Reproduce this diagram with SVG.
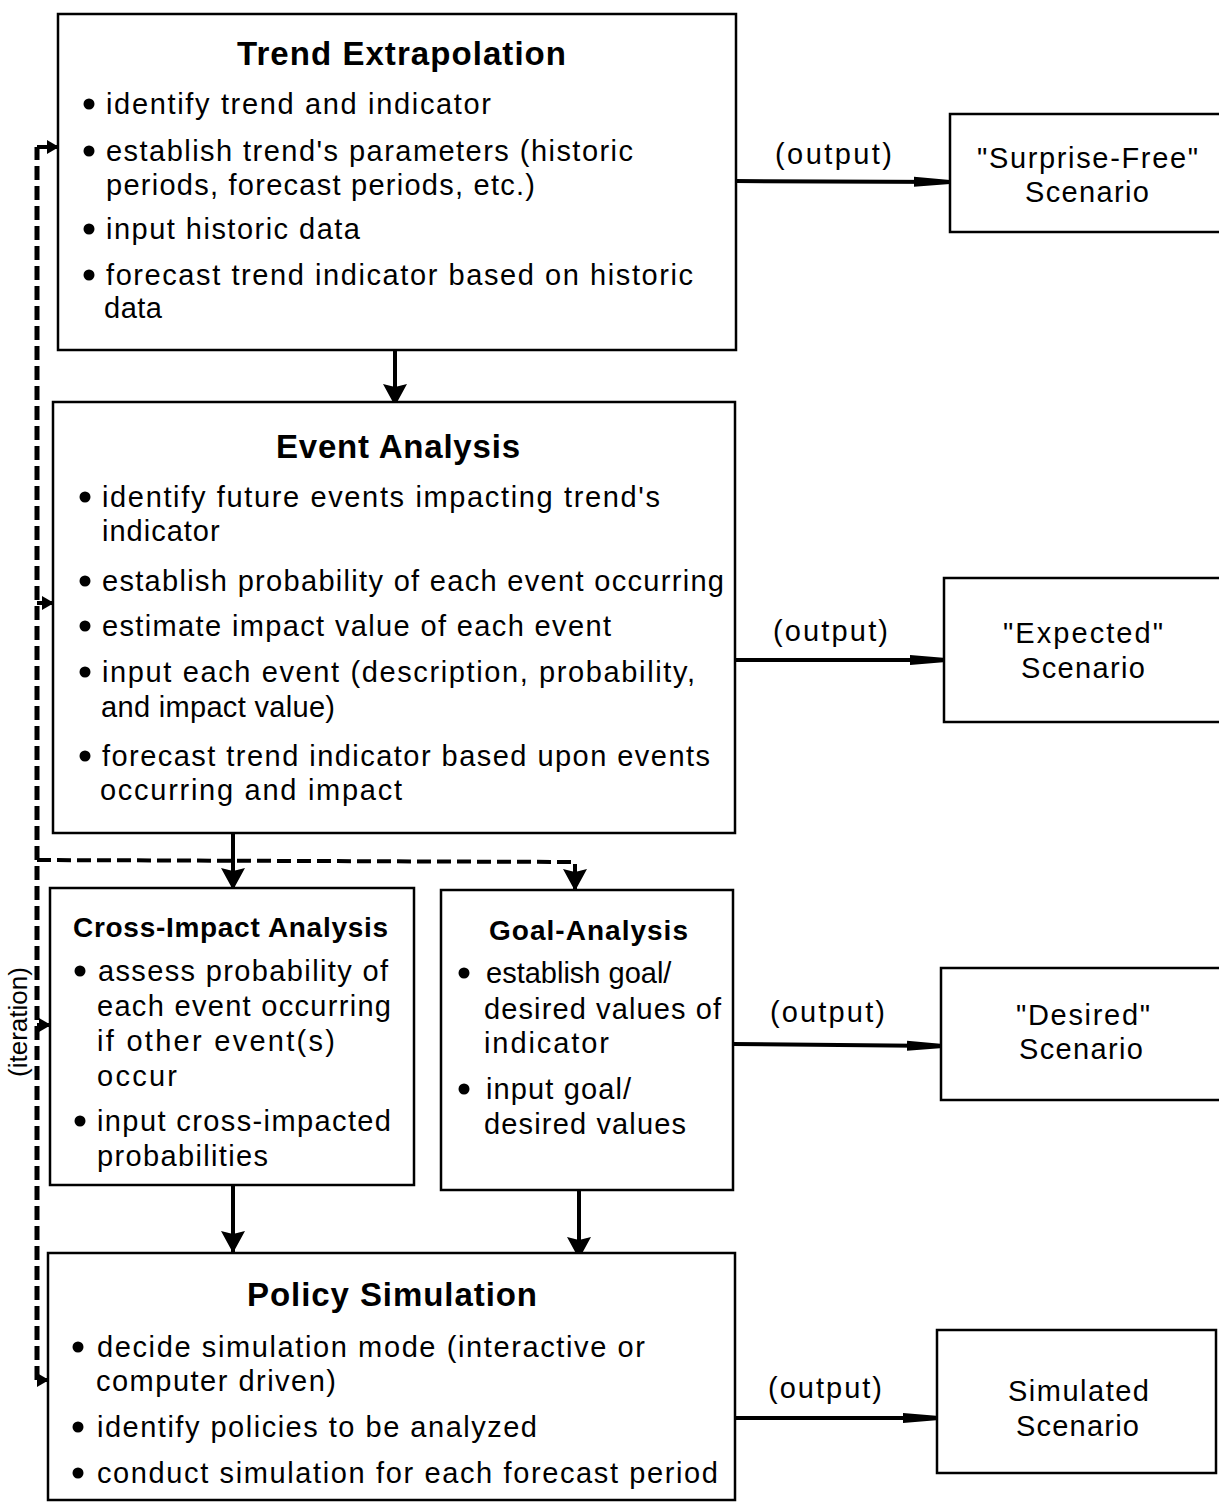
<svg xmlns="http://www.w3.org/2000/svg" width="1219" height="1505" viewBox="0 0 1219 1505">
<style>
.box{fill:#fff;stroke:#000;stroke-width:2.5}
.t{font-family:"Liberation Sans",Arial,sans-serif;font-size:29px;fill:#000}
.h{font-family:"Liberation Sans",Arial,sans-serif;font-weight:bold;font-size:33px;fill:#000}
.h2{font-family:"Liberation Sans",Arial,sans-serif;font-weight:bold;font-size:28px;fill:#000}
.solid{stroke:#000;stroke-width:4;fill:none}
.dash{stroke:#000;stroke-width:5;fill:none;stroke-dasharray:14 6}
.dot{fill:#000}
</style>
<defs>
<marker id="big" viewBox="0 0 22 24" refX="21" refY="12" markerWidth="22" markerHeight="24" markerUnits="userSpaceOnUse" orient="auto">
<path d="M0,0 L22,12 L0,24 L3,12 z" fill="#000"/>
</marker>
<marker id="dart" viewBox="0 0 36 12" refX="35" refY="6" markerWidth="36" markerHeight="12" markerUnits="userSpaceOnUse" orient="auto">
<path d="M0,1 L36,4 L36,8 L0,11 z" fill="#000"/>
</marker>
<marker id="small" viewBox="0 0 12 14" refX="11" refY="7" markerWidth="12" markerHeight="14" markerUnits="userSpaceOnUse" orient="auto">
<path d="M0,0 L12,7 L0,14 z" fill="#000"/>
</marker>
</defs>

<g id="connectors">
<line class="solid" x1="395" y1="350" x2="395" y2="405" marker-end="url(#big)"/>
<line class="solid" x1="233" y1="833" x2="233" y2="889" marker-end="url(#big)"/>
<line class="solid" x1="233" y1="1185" x2="233" y2="1252" marker-end="url(#big)"/>
<line class="solid" x1="579" y1="1190" x2="579" y2="1258" marker-end="url(#big)"/>
<line class="solid" x1="735" y1="181" x2="949" y2="182" marker-end="url(#dart)"/>
<line class="solid" x1="735" y1="660" x2="945" y2="660" marker-end="url(#dart)"/>
<line class="solid" x1="733" y1="1044" x2="942" y2="1046" marker-end="url(#dart)"/>
<line class="solid" x1="735" y1="1418" x2="938" y2="1418" marker-end="url(#dart)"/>
<path class="dash" d="M37,1380 L37,147"/>
<line class="solid" x1="37" y1="147" x2="58" y2="147" marker-end="url(#small)"/>
<line class="solid" x1="37" y1="603" x2="53" y2="603" marker-end="url(#small)"/>
<line class="solid" x1="37" y1="1025" x2="50" y2="1025" marker-end="url(#small)"/>
<line class="solid" x1="37" y1="1380" x2="48" y2="1380" marker-end="url(#small)"/>
<path class="dash" d="M37,860 L575,862 L575,874" style="stroke-width:4"/>
<line class="solid" x1="575" y1="868" x2="575" y2="890" marker-end="url(#big)"/>
<text class="t" style="font-size:26px" text-anchor="middle" transform="translate(27,1022) rotate(-90)">(iteration)</text>
</g>

<g id="trend-extrapolation">
<rect class="box" x="58" y="14" width="678" height="336"/>
<text class="h" x="237" y="65" textLength="329">Trend Extrapolation</text>
<circle class="dot" cx="89" cy="104" r="5.5"/>
<text class="t" x="106" y="114" textLength="385">identify trend and indicator</text>
<circle class="dot" cx="89" cy="151" r="5.5"/>
<text class="t" x="106" y="161" textLength="527">establish trend's parameters (historic</text>
<text class="t" x="106" y="195" textLength="429">periods, forecast periods, etc.)</text>
<circle class="dot" cx="89" cy="229" r="5.5"/>
<text class="t" x="106" y="239" textLength="254">input historic data</text>
<circle class="dot" cx="89" cy="275" r="5.5"/>
<text class="t" x="106" y="285" textLength="587">forecast trend indicator based on historic</text>
<text class="t" x="104" y="318" textLength="58">data</text>
</g>

<g id="event-analysis">
<rect class="box" x="53" y="402" width="682" height="431"/>
<text class="h" x="276" y="458" textLength="244">Event Analysis</text>
<circle class="dot" cx="85" cy="497" r="5.5"/>
<text class="t" x="102" y="507" textLength="558">identify future events impacting trend's</text>
<text class="t" x="102" y="541" letter-spacing="1">indicator</text>
<circle class="dot" cx="85" cy="581" r="5.5"/>
<text class="t" x="102" y="591" textLength="622">establish probability of each event occurring</text>
<circle class="dot" cx="85" cy="626" r="5.5"/>
<text class="t" x="102" y="636" textLength="509">estimate impact value of each event</text>
<circle class="dot" cx="85" cy="672" r="5.5"/>
<text class="t" x="102" y="682" textLength="593">input each event (description, probability,</text>
<text class="t" x="101" y="717" textLength="234">and impact value)</text>
<circle class="dot" cx="85" cy="756" r="5.5"/>
<text class="t" x="102" y="766" textLength="608">forecast trend indicator based upon events</text>
<text class="t" x="100" y="800" textLength="302">occurring and impact</text>
</g>

<g id="cross-impact-analysis">
<rect class="box" x="50" y="888" width="364" height="297"/>
<text class="h2" x="73" y="937" textLength="315">Cross-Impact Analysis</text>
<circle class="dot" cx="80" cy="971" r="5.5"/>
<text class="t" x="98" y="981" textLength="290">assess probability of</text>
<text class="t" x="97" y="1016" textLength="294">each event occurring</text>
<text class="t" x="97" y="1051" textLength="238">if other event(s)</text>
<text class="t" x="97" y="1086" textLength="80">occur</text>
<circle class="dot" cx="80" cy="1121" r="5.5"/>
<text class="t" x="97" y="1131" textLength="294">input cross-impacted</text>
<text class="t" x="97" y="1166" textLength="171">probabilities</text>
</g>

<g id="goal-analysis">
<rect class="box" x="441" y="890" width="292" height="300"/>
<text class="h2" x="489" y="940" textLength="199">Goal-Analysis</text>
<circle class="dot" cx="464" cy="973" r="5.5"/>
<text class="t" x="486" y="983">establish goal/</text>
<text class="t" x="484" y="1019" textLength="237">desired values of</text>
<text class="t" x="484" y="1053" textLength="125">indicator</text>
<circle class="dot" cx="464" cy="1089" r="5.5"/>
<text class="t" x="486" y="1099" textLength="145">input goal/</text>
<text class="t" x="484" y="1134" textLength="202">desired values</text>
</g>

<g id="policy-simulation">
<rect class="box" x="48" y="1253" width="687" height="247"/>
<text class="h" x="247" y="1306" textLength="290">Policy Simulation</text>
<circle class="dot" cx="78" cy="1347" r="5.5"/>
<text class="t" x="97" y="1357" textLength="548">decide simulation mode (interactive or</text>
<text class="t" x="96" y="1391" textLength="240">computer driven)</text>
<circle class="dot" cx="78" cy="1427" r="5.5"/>
<text class="t" x="97" y="1437" textLength="440">identify policies to be analyzed</text>
<circle class="dot" cx="78" cy="1473" r="5.5"/>
<text class="t" x="97" y="1483" textLength="621">conduct simulation for each forecast period</text>
</g>

<g id="output-labels">
<text class="t" x="775" y="164" textLength="117">(output)</text>
<text class="t" x="773" y="641" textLength="115">(output)</text>
<text class="t" x="770" y="1022" textLength="115">(output)</text>
<text class="t" x="768" y="1398" textLength="114">(output)</text>
</g>

<g id="surprise-free-scenario">
<rect class="box" x="950" y="114" width="280" height="118"/>
<text class="t" x="977" y="168" textLength="221">"Surprise-Free"</text>
<text class="t" x="1025" y="202" textLength="124">Scenario</text>
</g>

<g id="expected-scenario">
<rect class="box" x="944" y="578" width="290" height="144"/>
<text class="t" x="1003" y="643" textLength="160">"Expected"</text>
<text class="t" x="1021" y="678" textLength="124">Scenario</text>
</g>

<g id="desired-scenario">
<rect class="box" x="941" y="968" width="290" height="132"/>
<text class="t" x="1016" y="1025" textLength="134">"Desired"</text>
<text class="t" x="1019" y="1059" textLength="124">Scenario</text>
</g>

<g id="simulated-scenario">
<rect class="box" x="937" y="1330" width="279" height="143"/>
<text class="t" x="1008" y="1401" textLength="141">Simulated</text>
<text class="t" x="1016" y="1436" textLength="123">Scenario</text>
</g>
</svg>
